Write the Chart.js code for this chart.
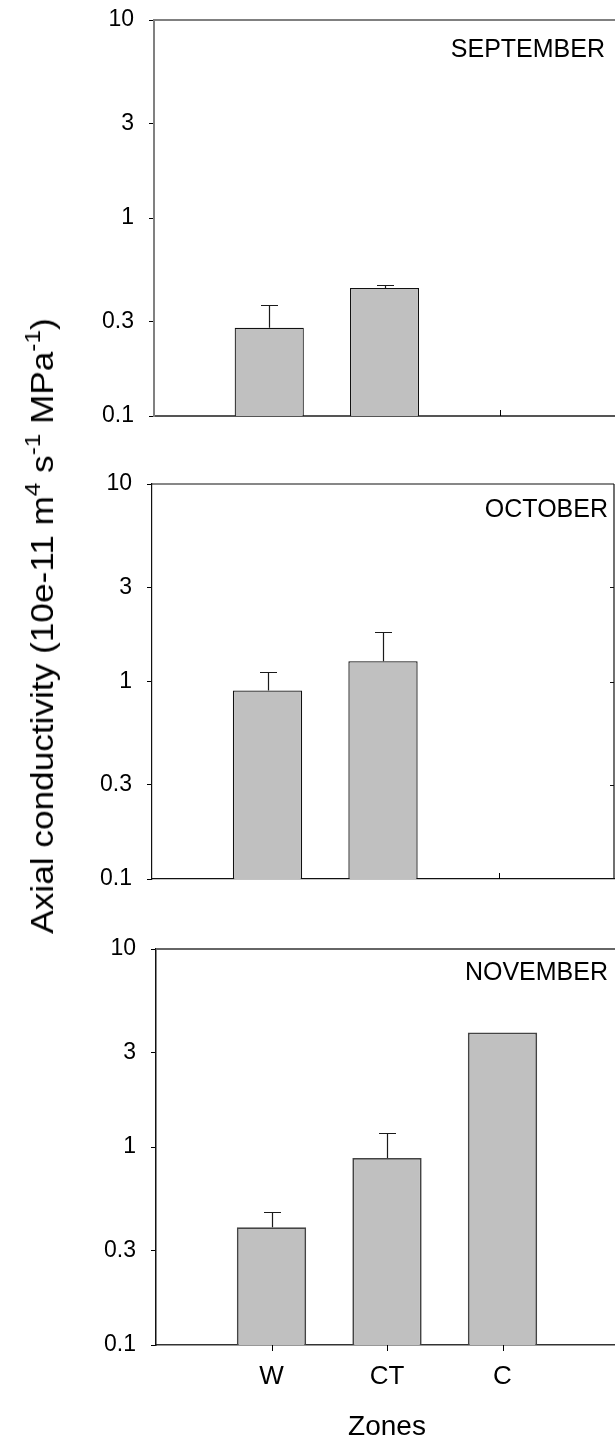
<!DOCTYPE html>
<html>
<head>
<meta charset="utf-8">
<script src="https://cdn.jsdelivr.net/npm/chart.js@4.4.1/dist/chart.umd.min.js"></script>
<style>
  html, body { margin: 0; padding: 0; background: #fff; }
  body { width: 615px; height: 1442px; overflow: hidden; position: relative;
         font-family: "Liberation Sans", Arial, sans-serif; }
  canvas { position: absolute; left: 0; }
  #ytitle { position: absolute; left: 42px; top: 626px; white-space: nowrap;
            transform: translate(-50%, -50%) rotate(-90deg) scaleX(1.1);
            font-size: 32px; color: #000; line-height: 1; }
  #ytitle sup { font-size: 22px; vertical-align: 0; position: relative; top: -0.6em; }
</style>
</head>
<body>
<canvas id="sep" width="615" height="440" style="top:0px; width:615px; height:440px"></canvas>
<canvas id="oct" width="615" height="440" style="top:460px; width:615px; height:440px"></canvas>
<canvas id="nov" width="625" height="517" style="top:925px; width:625px; height:517px"></canvas>
<div id="ytitle">Axial conductivity (10e-11 m<sup>4</sup> s<sup>-1</sup> MPa<sup>-1</sup>)</div>
<script>
// Sampling zones along the x axis
const zones = ['W', 'CT', 'C'];

// Log-scale y ticks
const tickValues = [0.1, 0.3, 1, 3, 10];
const tickLabels = ['0.1', '0.3', '1', '3', '10'];

// Monthly means and upper error limits (mean + SE), per zone
const septemberMean  = [0.279, 0.443, null];
const septemberUpper = [0.362, 0.460, null];
const octoberMean    = [0.90, 1.266, null];
const octoberUpper   = [1.114, 1.775, null];
const novemberMean   = [0.393, 0.88, 3.79];
const novemberUpper  = [0.468, 1.17, null];

const FONT = '"Liberation Sans", Arial, sans-serif';

// Frame lines, inward ticks, error bars and the month label
const panelDecor = {
  id: 'panelDecor',
  beforeDatasetsDraw(chart, args, o) {
    const { ctx, chartArea: a, scales: { x, y } } = chart;
    ctx.save();
    ctx.lineCap = 'butt';
    if (o.topLine) {
      ctx.strokeStyle = o.topLine.color; ctx.lineWidth = o.topLine.width;
      ctx.beginPath(); ctx.moveTo(a.left, a.top); ctx.lineTo(a.right, a.top); ctx.stroke();
    }
    if (o.rightLine) {
      ctx.strokeStyle = o.rightLine.color; ctx.lineWidth = o.rightLine.width;
      ctx.beginPath(); ctx.moveTo(a.right, a.top); ctx.lineTo(a.right, a.bottom); ctx.stroke();
      // inward ticks on the right axis
      ctx.beginPath();
      tickValues.slice(1, -1).forEach(v => {
        const py = Math.round(y.getPixelForValue(v)) + 0.5;
        ctx.moveTo(a.right, py); ctx.lineTo(a.right - 4, py);
      });
      ctx.stroke();
    }
    // category ticks on the x axis
    ctx.strokeStyle = o.xTickColor; ctx.lineWidth = 1;
    ctx.beginPath();
    zones.forEach((z, i) => {
      const px = Math.round(x.getPixelForValue(i + 1)) + 0.5;
      ctx.moveTo(px, a.bottom);
      ctx.lineTo(px, a.bottom + o.xTickDir * 6);
    });
    ctx.stroke();
    ctx.restore();
  },
  afterDatasetsDraw(chart, args, o) {
    const { ctx, scales: { y } } = chart;
    const meta = chart.getDatasetMeta(0);
    const upper = [null, ...o.upper, null];
    ctx.save();
    ctx.strokeStyle = '#1a1a1a'; ctx.lineWidth = 1.2;
    ctx.beginPath();
    meta.data.forEach((bar, i) => {
      const u = upper[i];
      if (u == null) return;
      const px = Math.round(bar.x) + 0.5;
      const top = Math.round(y.getPixelForValue(u)) + 0.5;
      ctx.moveTo(px, bar.y); ctx.lineTo(px, top);
      ctx.moveTo(px - 8.5, top); ctx.lineTo(px + 8.5, top);
    });
    ctx.stroke();
    ctx.restore();
  },
  afterDraw(chart, args, o) {
    const { ctx, chartArea: a } = chart;
    ctx.save();
    ctx.fillStyle = '#000';
    ctx.font = '25px ' + FONT;
    ctx.textAlign = 'right'; ctx.textBaseline = 'alphabetic';
    ctx.fillText(o.month, o.monthRight, a.top + o.monthBaseline);
    if (o.xTitle) {
      ctx.textAlign = 'center';
      ctx.font = '28px ' + FONT;
      ctx.fillText(o.xTitle, (a.left + a.right) / 2, a.bottom + o.xTitleBaseline);
    }
    ctx.restore();
  }
};

function makePanel(id, p) {
  const labels = ['', ...zones, ''];
  const data = [null, ...p.mean, null];
  return new Chart(document.getElementById(id), {
    type: 'bar',
    data: {
      labels,
      datasets: [{
        data,
        backgroundColor: '#c0c0c0',
        borderColor: p.barBorder,
        borderWidth: p.barBorderWidth,
        barPercentage: 0.6,
        categoryPercentage: 1
      }]
    },
    plugins: [panelDecor],
    options: {
      responsive: false,
      animation: false,
      events: [],
      layout: { padding: { top: p.padTop, right: p.padRight, left: 0, bottom: 0 } },
      plugins: {
        legend: { display: false },
        tooltip: { enabled: false },
        panelDecor: {
          upper: p.upper,
          month: p.month,
          monthRight: p.monthRight,
          monthBaseline: p.monthBaseline,
          topLine: p.topLine,
          rightLine: p.rightLine,
          xTickDir: p.xTickDir,
          xTickColor: '#000',
          xTitle: p.xTitle,
          xTitleBaseline: p.xTitleBaseline
        }
      },
      scales: {
        x: {
          type: 'category',
          offset: false,
          grid: { display: false, drawTicks: false },
          border: { display: true, color: p.axisColor, width: p.axisWidth },
          ticks: {
            display: !!p.showLabels,
            autoSkip: false, maxRotation: 0,
            color: '#000', padding: 16,
            font: { family: FONT, size: 26 }
          },
          afterFit(s) { s.height = p.xHeight; s.paddingLeft = 0; s.paddingRight = 0; }
        },
        y: {
          type: 'logarithmic',
          min: 0.1, max: 10,
          grid: { display: true, drawOnChartArea: false, drawTicks: true, tickLength: 5, color: '#000' },
          border: { display: true, color: p.leftColor, width: p.axisWidth },
          ticks: {
            color: '#000', padding: 15,
            font: { family: FONT, size: 23 },
            callback: (v, i) => tickLabels[i]
          },
          afterBuildTicks(s) { s.ticks = tickValues.map(v => ({ value: v })); },
          afterFit(s) { s.width = p.yWidth; s.paddingTop = 0; s.paddingBottom = 0; }
        }
      }
    }
  });
}

makePanel('sep', {
  mean: septemberMean, upper: septemberUpper, month: 'SEPTEMBER',
  padTop: 20, padRight: 0, xHeight: 24, yWidth: 154,
  barBorder: '#111', barBorderWidth: 1.2,
  axisColor: '#555', leftColor: '#808080', axisWidth: 2,
  topLine: { color: '#808080', width: 2 }, rightLine: null,
  xTickDir: -1, monthRight: 605, monthBaseline: 37
});

makePanel('oct', {
  mean: octoberMean, upper: octoberUpper, month: 'OCTOBER',
  padTop: 24, padRight: 1, xHeight: 21, yWidth: 152,
  barBorder: '#111', barBorderWidth: 1.3,
  axisColor: '#111', leftColor: '#111', axisWidth: 1.2,
  topLine: { color: '#111', width: 1.2 }, rightLine: { color: '#111', width: 1.2 },
  xTickDir: -1, monthRight: 608, monthBaseline: 33
});

makePanel('nov', {
  mean: novemberMean, upper: novemberUpper, month: 'NOVEMBER',
  padTop: 24, padRight: 7, xHeight: 97, yWidth: 156,
  barBorder: '#444', barBorderWidth: 1.8,
  axisColor: '#333', leftColor: '#111', axisWidth: 1.5,
  topLine: { color: '#666', width: 2 }, rightLine: null,
  xTickDir: 1, monthRight: 608, monthBaseline: 31,
  showLabels: true, xTitle: 'Zones', xTitleBaseline: 90
});
</script>
</body>
</html>
